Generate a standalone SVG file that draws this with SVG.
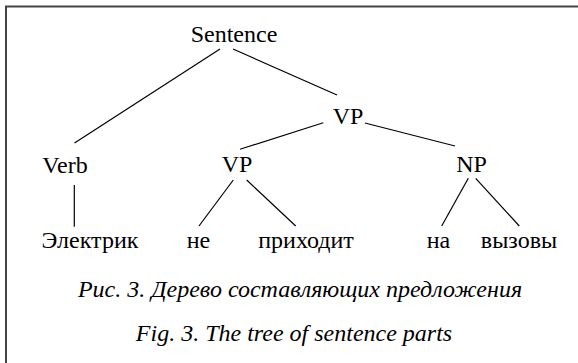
<svg xmlns="http://www.w3.org/2000/svg" width="578" height="363" viewBox="0 0 578 363">
  <style>
    .lbl { font-family: "Liberation Serif", "Times New Roman", serif; font-size: 24px; fill: #000; text-anchor: middle; }
    .cap { font-style: italic; }
    .edge { stroke: #000; stroke-width: 1.2; fill: none; }
    .frame { stroke: #444; stroke-width: 2; fill: none; }
  </style>
  <rect width="578" height="363" fill="#fff"/>
  <!-- open frame: top and left sides only -->
  <path class="frame" d="M6 363 V6.5 H578"/>

  <g id="connectors">
    <line class="edge" x1="220" y1="49" x2="74.5" y2="143"/>
    <line class="edge" x1="233" y1="49" x2="337" y2="95"/>
    <line class="edge" x1="323.3" y1="122.7" x2="240" y2="149.3"/>
    <line class="edge" x1="365" y1="123" x2="455" y2="146"/>
    <line class="edge" x1="74.3" y1="185" x2="74.3" y2="226.7"/>
    <line class="edge" x1="233.3" y1="180" x2="199" y2="226"/>
    <line class="edge" x1="246.7" y1="180" x2="295.7" y2="226"/>
    <line class="edge" x1="468.3" y1="178.3" x2="441.7" y2="226"/>
    <line class="edge" x1="475.7" y1="178.3" x2="519.3" y2="226"/>
  </g>

  <g id="sentence"><text class="lbl" x="234" y="42">Sentence</text></g>
  <g id="vp-top"><text class="lbl" x="348" y="123.5">VP</text></g>
  <g id="verb"><text class="lbl" x="65" y="173">Verb</text></g>
  <g id="vp-low"><text class="lbl" x="237" y="172">VP</text></g>
  <g id="np"><text class="lbl" x="471.5" y="172">NP</text></g>
  <g id="w-elektrik"><text class="lbl" x="90" y="248">Электрик</text></g>
  <g id="w-ne"><text class="lbl" x="198.5" y="248">не</text></g>
  <g id="w-prikhodit"><text class="lbl" x="306" y="248">приходит</text></g>
  <g id="w-na"><text class="lbl" x="438.5" y="248">на</text></g>
  <g id="w-vyzovy"><text class="lbl" x="519" y="248">вызовы</text></g>

  <g id="captions">
    <text class="lbl cap" x="300" y="297">Рис. 3. Дерево составляющих предложения</text>
    <text class="lbl cap" x="294" y="341">Fig. 3. The tree of sentence parts</text>
  </g>
</svg>
